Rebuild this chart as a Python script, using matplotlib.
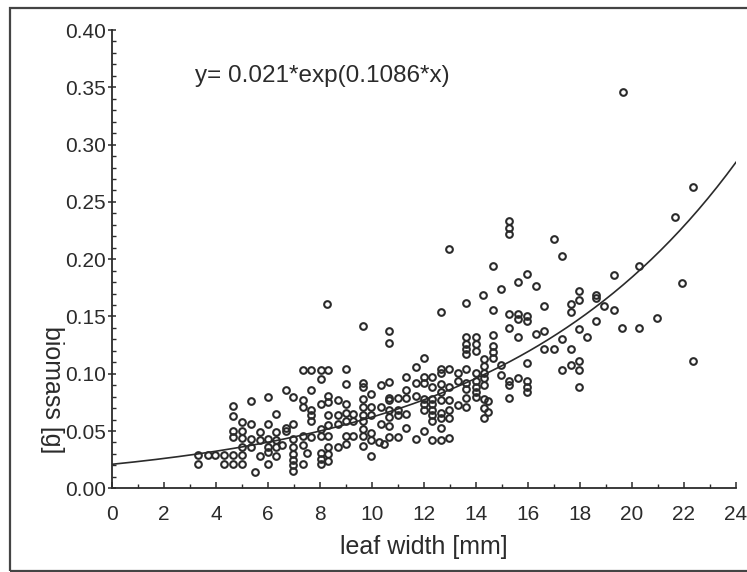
import numpy as np
import matplotlib
matplotlib.use("Agg")
import matplotlib.pyplot as plt
from matplotlib.patches import Rectangle
from matplotlib.ticker import MultipleLocator, FormatStrFormatter

# --- 1. Donnees ---
# largeur de feuille [mm] et biomasse [g], un point par mesure (groupes par colonne)
leaf_width = (
    [3.28] * 2 + [3.67] + [3.96] + [4.31] * 2 + [4.63] * 6 + [5.01] * 6 + [5.33] * 4 + [5.50]
    + [5.69] * 3 + [6.00] * 6 + [6.30] * 5 + [6.53] + [6.68] * 3 + [6.97] * 8 + [7.35] * 6
    + [7.50] + [7.65] * 6 + [8.03] * 8 + [8.27]
    + [8.31] * 9 + [8.67] * 4 + [8.99] * 7 + [9.28] * 3 + [9.63] * 10 + [9.95] * 6
    + [10.27] + [10.46] + [10.33] * 3 + [10.63] * 9 + [11.00] * 4 + [11.32] * 5 + [11.68] * 4
    + [12.00] * 7 + [12.30] * 8 + [12.64] * 10 + [12.96] * 7 + [13.32] * 3 + [13.60] * 10
    + [13.99] * 8 + [14.28] + [14.31] * 8 + [14.47] * 2 + [14.67] * 6 + [14.97] * 3
    + [15.27] * 8 + [15.63] * 5 + [15.95] * 7 + [16.32] * 2 + [16.62] * 3 + [17.00] * 2
    + [17.30] * 3 + [17.64] * 4 + [17.96] * 6 + [18.26]
    + [18.63] * 3 + [18.92] + [19.31] * 2 + [19.60] + [19.66] + [20.27] * 2 + [20.95]
    + [21.65] + [21.93] + [22.33] * 2
)
biomass = [
    0.029, 0.021,
    0.029,
    0.029,
    0.029, 0.021,
    0.072, 0.063, 0.050, 0.045, 0.029, 0.0215,
    0.058, 0.050, 0.044, 0.036, 0.029, 0.021,
    0.076, 0.056, 0.043, 0.036,
    0.014,
    0.049, 0.042, 0.028,
    0.080, 0.056, 0.043, 0.036, 0.032, 0.021,
    0.065, 0.049, 0.042, 0.036, 0.028,
    0.038,
    0.086, 0.053, 0.050,
    0.080, 0.056, 0.043, 0.036, 0.030, 0.025, 0.020, 0.015,
    0.103, 0.077, 0.071, 0.046, 0.038, 0.021,
    0.031,
    0.103, 0.086, 0.068, 0.064, 0.059, 0.045,
    0.103, 0.095, 0.074, 0.052, 0.046, 0.031, 0.026, 0.021,
    0.161,
    0.103, 0.081, 0.075, 0.064, 0.055, 0.046, 0.036, 0.030, 0.024,
    0.077, 0.064, 0.056, 0.036,
    0.104, 0.091, 0.074, 0.066, 0.059, 0.046, 0.039,
    0.065, 0.059, 0.046,
    0.142, 0.092, 0.088, 0.078, 0.071, 0.064, 0.059, 0.052, 0.046, 0.037,
    0.082, 0.071, 0.064, 0.048, 0.042, 0.028,
    0.040,
    0.039,
    0.090, 0.071, 0.056,
    0.137, 0.127, 0.093, 0.079, 0.077, 0.068, 0.062, 0.054, 0.045,
    0.079, 0.068, 0.064, 0.045,
    0.097, 0.086, 0.079, 0.065, 0.053,
    0.106, 0.092, 0.081, 0.043,
    0.114, 0.097, 0.092, 0.078, 0.074, 0.068, 0.050,
    0.097, 0.088, 0.078, 0.074, 0.068, 0.064, 0.059, 0.042,
    0.154, 0.104, 0.101, 0.091, 0.084, 0.077, 0.066, 0.061, 0.053, 0.042,
    0.209, 0.104, 0.088, 0.077, 0.068, 0.061, 0.044,
    0.101, 0.094, 0.073,
    0.162, 0.132, 0.126, 0.122, 0.117, 0.104, 0.092, 0.087, 0.079, 0.071,
    0.132, 0.126, 0.120, 0.101, 0.094, 0.088, 0.084, 0.080,
    0.169,
    0.113, 0.107, 0.101, 0.096, 0.090, 0.078, 0.070, 0.061,
    0.076, 0.067,
    0.194, 0.156, 0.134, 0.124, 0.119, 0.114,
    0.174, 0.108, 0.099,
    0.233, 0.227, 0.222, 0.152, 0.140, 0.094, 0.090, 0.079,
    0.180, 0.152, 0.148, 0.132, 0.096,
    0.187, 0.150, 0.146, 0.109, 0.094, 0.088, 0.084,
    0.177, 0.135,
    0.159, 0.137, 0.122,
    0.218, 0.122,
    0.203, 0.130, 0.103,
    0.161, 0.154, 0.122, 0.108,
    0.172, 0.164, 0.139, 0.111, 0.103, 0.088,
    0.132,
    0.169, 0.166, 0.146,
    0.159,
    0.186, 0.156,
    0.140,
    0.346,
    0.194, 0.140,
    0.149,
    0.237,
    0.179,
    0.263, 0.111,
]

# parametres de l'ajustement exponentiel affiche sur le graphique
fit_a = 0.021
fit_b = 0.1086
equation_label = "y= 0.021*exp(0.1086*x)"

# --- 2. Style general ---
plt.rcParams['font.family'] = ['Liberation Sans', 'DejaVu Sans']
ink = '#2b2b2b'

fig = plt.figure(figsize=(7.47, 5.72), dpi=100)
ax = fig.add_axes([0.1503, 0.1463, 0.8349, 0.8012])

# cadre autour de la figure (bord droit hors image)
fig.add_artist(Rectangle((0.0134, 0.0018), 1.05, 0.984, transform=fig.transFigure,
                         fill=False, edgecolor='#444444', linewidth=1.6))

# --- 3. Nuage de points et courbe ajustee ---
ax.plot(leaf_width, biomass, linestyle='none', marker='o', markersize=4.8,
        markerfacecolor='none', markeredgecolor=ink, markeredgewidth=1.5, clip_on=False)

x_fit = np.linspace(0, 24, 200)
ax.plot(x_fit, fit_a * np.exp(fit_b * x_fit), color=ink, linewidth=1.2)

ax.text(0.1326, 0.8996, equation_label, transform=ax.transAxes, fontsize=17.5,
        color=ink, ha='left', va='center')

# --- 4. Axes ---
ax.set_xlim(0, 24)
ax.set_ylim(0, 0.40)
ax.xaxis.set_major_locator(MultipleLocator(2))
ax.xaxis.set_minor_locator(MultipleLocator(1))
ax.yaxis.set_major_locator(MultipleLocator(0.05))
ax.yaxis.set_minor_locator(MultipleLocator(0.01))
ax.yaxis.set_major_formatter(FormatStrFormatter('%.2f'))

for side in ['top', 'right']:
    ax.spines[side].set_visible(False)
for side in ['left', 'bottom']:
    ax.spines[side].set_linewidth(1.3)
    ax.spines[side].set_color(ink)

ax.tick_params(axis='x', which='major', direction='in', length=4, width=1.1,
               color=ink, labelsize=15, labelcolor=ink, pad=12)
ax.tick_params(axis='x', which='minor', direction='in', length=3, width=1.0, color=ink)
ax.tick_params(axis='y', which='major', direction='inout', length=6, width=1.1,
               color=ink, labelsize=15, labelcolor=ink, pad=1.5)
ax.tick_params(axis='y', which='minor', direction='in', length=3, width=1.0, color=ink)

ax.set_xlabel("leaf width [mm]", fontsize=18, color=ink, va='center')
ax.xaxis.set_label_coords(0.5, -0.128)
ax.set_ylabel("biomass [g]", fontsize=18, color=ink, rotation=-90, va='center', ha='center')
ax.yaxis.set_label_coords(-0.097, 0.2145)

plt.savefig("out.png", dpi=100)
print("Graphique sauvegarde sous out.png")
